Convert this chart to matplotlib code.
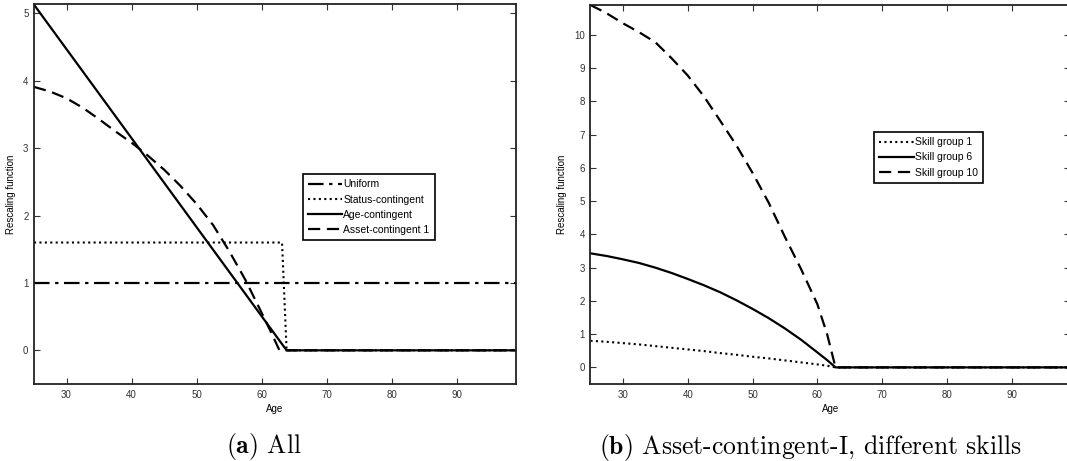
import numpy as np
import matplotlib
matplotlib.use("Agg")
import matplotlib.pyplot as plt

# panel (a) - all schemes
ages_flat = [25, 99]
uniform = [1.0, 1.0]

ages_status = [25, 63.1, 63.8, 99]
status = [1.6, 1.6, 0.0, 0.0]

ages_agec = [25, 63.8, 99]
age_contingent = [5.13, 0.0, 0.0]

ages_asset = [25, 27.5, 30, 32.5, 35, 37.5, 40, 42, 45, 47.5, 50, 52.5, 55,
              57.5, 60, 61.5, 62.7, 99]
asset_1 = [3.91, 3.84, 3.74, 3.60, 3.43, 3.25, 3.08, 2.93, 2.68, 2.44, 2.17,
           1.86, 1.47, 1.04, 0.55, 0.25, 0.0, 0.0]

# panel (b) - asset-contingent-I by skill group
ages_skill = [25, 27.5, 30, 32.5, 35, 37.5, 40, 42.5, 45, 47.5, 50, 52.5, 55,
              57.5, 60, 61.5, 62.8, 99]
skill_1 = [0.80, 0.77, 0.73, 0.69, 0.64, 0.59, 0.54, 0.49, 0.43, 0.38, 0.32,
           0.27, 0.21, 0.15, 0.09, 0.05, 0.0, 0.0]
skill_6 = [3.43, 3.35, 3.25, 3.14, 3.00, 2.84, 2.66, 2.47, 2.26, 2.02, 1.76,
           1.48, 1.17, 0.83, 0.45, 0.22, 0.0, 0.0]
skill_10 = [10.9, 10.65, 10.35, 10.08, 9.78, 9.30, 8.78, 8.15, 7.42, 6.68,
            5.85, 4.95, 3.92, 2.95, 1.90, 1.00, 0.0, 0.0]

xticks = [30, 40, 50, 60, 70, 80, 90]

DOT = (0, (1, 1.6))
DASH = (0, (5.5, 3))
DASHDOT = (0, (7, 2.5, 1.5, 2.5))

plt.rcParams['font.family'] = ['Liberation Sans', 'DejaVu Sans']
plt.rcParams['mathtext.fontset'] = 'cm'

fig = plt.figure(figsize=(10.67, 4.61), dpi=100)
ax1 = fig.add_axes([0.03187, 0.167, 0.4515, 0.8243])
ax2 = fig.add_axes([0.5534, 0.167, 0.4496, 0.8222])


def style_axes(ax, ylim, yticks):
    ax.set_xlim(25, 99)
    ax.set_ylim(*ylim)
    ax.set_xticks(xticks)
    ax.set_yticks(yticks)
    ax.tick_params(direction='in', length=4, width=0.8, labelsize=7,
                   top=True, right=True, colors='#333333', pad=4)
    for sp in ax.spines.values():
        sp.set_linewidth(1.3)
        sp.set_color('#222222')
    ax.set_xlabel('Age', fontsize=7, labelpad=3)
    ax.set_ylabel('Rescaling function', fontsize=7, labelpad=5)


def add_legend(ax, anchor):
    leg = ax.legend(loc='upper left', bbox_to_anchor=anchor, fontsize=7.5,
                    handlelength=3.3, handletextpad=0.1, labelspacing=0.5,
                    borderpad=0.5, fancybox=False, framealpha=1, borderaxespad=0)
    leg.get_frame().set_edgecolor('black')
    leg.get_frame().set_linewidth(1.2)


ax1.plot(ages_flat, uniform, color='black', lw=1.6, ls=DASHDOT, label='Uniform')
ax1.plot(ages_status, status, color='black', lw=1.5, ls=DOT, label='Status-contingent')
ax1.plot(ages_agec, age_contingent, color='black', lw=1.6, label='Age-contingent')
ax1.plot(ages_asset, asset_1, color='black', lw=1.6, ls=DASH, label='Asset-contingent 1')
style_axes(ax1, (-0.5, 5.14), [0, 1, 2, 3, 4, 5])
add_legend(ax1, (0.558, 0.552))

ax2.plot(ages_skill, skill_1, color='black', lw=1.5, ls=DOT, label='Skill group 1')
ax2.plot(ages_skill, skill_6, color='black', lw=1.6, label='Skill group 6')
ax2.plot(ages_skill, skill_10, color='black', lw=1.6, ls=DASH, label='Skill group 10')
style_axes(ax2, (-0.5, 10.9), list(range(0, 11)))
add_legend(ax2, (0.591, 0.665))

fig.text(264 / 1067, 1 - 446 / 461, r'$\mathbf{(a)}$ All', family='cmr10',
         fontsize=18.5, ha='center', va='center')
fig.text(811 / 1067, 1 - 447 / 461,
         r'$\mathbf{(b)}$ Asset-contingent-I, different skills',
         family='cmr10', fontsize=18.5, ha='center', va='center')

fig.savefig('out.png', dpi=100)
